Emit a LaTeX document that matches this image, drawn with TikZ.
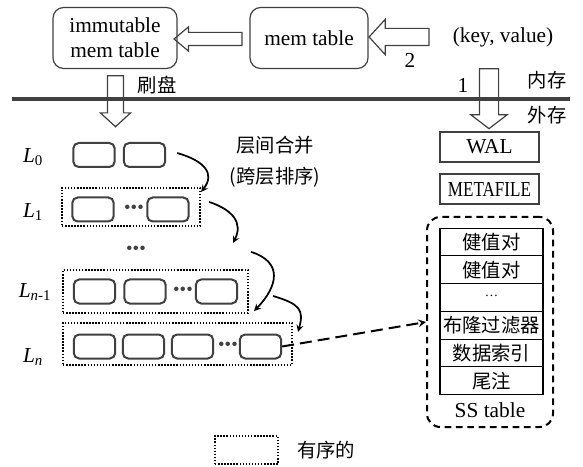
\documentclass[tikz,border=0pt]{standalone}
\usepackage{fontspec}
\setmainfont{Liberation Serif}
\newfontfamily\cjk{Noto Sans CJK SC}
\usetikzlibrary{shapes}
\usetikzlibrary{arrows}
\usetikzlibrary{positioning}
\usetikzlibrary{calc}
\definecolor{edge}{HTML}{404040}
\newcommand{\zh}{\cjk\fontsize{14.5pt}{22.5pt}\selectfont}
\tikzstyle{every node}=[font=\fontsize{16pt}{19pt}\selectfont]
\tikzstyle{memtab}=[rectangle,draw=edge,line width=0.9pt,rounded corners=8pt,
        minimum height=45.75pt,align=center,inner sep=0pt]
\tikzstyle{hollow}=[draw=edge,line width=0.9pt,single arrow,inner xsep=0pt]
\tikzstyle{blk}=[rectangle,draw=edge,line width=1.5pt,rounded corners=4pt,
        minimum width=31pt,minimum height=18pt,inner sep=0pt]
\tikzstyle{lvl}=[rectangle,draw,line width=1.6pt,dash pattern=on 1.1pt off 1.2pt,inner sep=0pt]
\tikzstyle{dots}=[text=edge,inner sep=0pt,font=\fontsize{14pt}{14pt}\selectfont]
\tikzstyle{file}=[rectangle,draw=edge,line width=1pt,minimum width=74.25pt,
        minimum height=22.5pt,inner sep=0pt]
\tikzstyle{cell}=[rectangle,draw,line width=0.8pt,minimum width=77.25pt,
        minimum height=20.8pt,inner sep=0pt,outer sep=0pt,font=\zh]
\tikzstyle{sstab}=[rectangle,draw,line width=1.5pt,rounded corners=10pt,
        dash pattern=on 5pt off 3.5pt,minimum width=94.5pt,minimum height=157.5pt]
\tikzstyle{merge}=[->,>=stealth,line width=1.3pt]
\tikzstyle{link}=[->,>=stealth,line width=1.5pt,dash pattern=on 9pt off 4.5pt]

\begin{document}
\begin{tikzpicture}[x=0.75pt,y=-0.75pt]
\useasboundingbox (0,0) rectangle (583,467);
%memory part
\node[memtab,minimum width=93pt] (imm) at (115,38) {immutable\\mem table};
\node[memtab,minimum width=88.5pt] (mem) at (309,38) {mem table};
\node (kv) at (503,37) {(key, value)};
\draw[line width=3.4pt,draw=edge] (12,99) -- (570,99);
\node[hollow,rotate=180,minimum height=51pt,inner ysep=4.5pt,
        single arrow head extend=4.1pt,single arrow tip angle=80] (a1) at (212,39) {};
\node[hollow,rotate=180,minimum height=45pt,inner ysep=6pt,
        single arrow head extend=6.75pt,single arrow tip angle=95] (a2) at (403,37) {};
\node[hollow,rotate=-90,minimum height=38.25pt,inner ysep=5.6pt,
        single arrow head extend=5.25pt,single arrow tip angle=95] (af) at (115.5,97.5) {};
\node[hollow,rotate=-90,minimum height=45pt,inner ysep=6.75pt,
        single arrow head extend=6.4pt,single arrow tip angle=105] (aw) at (489,95) {};
\node (n2) at (410,60) {2};
\node (n1) at (463,85) {1};
\node[font=\zh] (ram) at (547,80) {内存};
\node[font=\zh] (disk) at (547,115) {外存};
\node[font=\zh] (dump) at (157,85) {刷盘};
%levels
\node (t0) at (33,157) {\textit{L}\textsubscript{0}};
\node (t1) at (33,212) {\textit{L}\textsubscript{1}};
\node (tn1) at (35,292) {\textit{L}\textsubscript{\textit{n}-1}};
\node (tn) at (33,357) {\textit{L}\textsubscript{\textit{n}}};
\node[blk] (l0a) at (94,155) {};
\node[blk] (l0b) at (144.5,155) {};
\node[lvl,minimum width=103.5pt,minimum height=28.5pt] (lv1) at (131,207) {};
\node[blk] (l1a) at (93,209.5) {};
\node[dots] (l1d) at (134,209.5) {\textbullet\textbullet\textbullet};
\node[blk] (l1b) at (168,209.5) {};
\node[dots] (lvm) at (136,250) {\textbullet\textbullet\textbullet};
\node[lvl,minimum width=138.75pt,minimum height=32.25pt] (lvn1) at (155.5,291.5) {};
\node[blk] (m1) at (94.5,291.5) {};
\node[blk] (m2) at (145,291.5) {};
\node[dots] (md) at (183,291.5) {\textbullet\textbullet\textbullet};
\node[blk] (m3) at (216.5,291.5) {};
\node[lvl,minimum width=171.75pt,minimum height=31.5pt] (lvn) at (177.5,344) {};
\node[blk] (n1a) at (94.5,346.5) {};
\node[blk] (n1b) at (143.5,346.5) {};
\node[blk] (n1c) at (192.5,346.5) {};
\node[dots] (nd) at (228,346.5) {\textbullet\textbullet\textbullet};
\node[blk] (n1e) at (260.5,346.5) {};
\node[font=\zh,align=center] (mergetxt) at (275,162) {层间合并\\[1pt](跨层排序)};
%disk files
\node[file] (wal) at (489.5,147) {WAL};
\node[file] (meta) at (489.5,189) {\scalebox{0.8}[1]{METAFILE}};
\node[sstab] (sst) at (490,322) {};
\node[cell] (r1) at (491.5,242) {健值对};
\node[cell,below=0pt of r1] (r2) {健值对};
\node[cell,below=0pt of r2,font=\fontsize{10pt}{10pt}\selectfont] (r3) {\raisebox{3pt}{\ldots}};
\node[cell,below=0pt of r3] (r4) {布隆过滤器};
\node[cell,below=0pt of r4] (r5) {数据索引};
\node[cell,below=0pt of r5] (r6) {尾注};
\node (ssname) at (490,410) {SS table};
%legend
\node[lvl,minimum width=47.25pt,minimum height=21pt] (key) at (246.5,450) {};
\node[font=\zh,right=10pt of key] (keytxt) {有序的};
%merge arrows
\coordinate (c2) at (233,243);
\draw[merge] ([shift={(11,-2)}]l0b.east) .. controls +(28,8) and +(14,-18) .. ([shift={(0,5)}]lv1.north east);
\draw[merge] ([shift={(8,15)}]lv1.north east) .. controls +(24,8) and +(10,-20) .. (c2);
\draw[merge] ([shift={(2,-17)}]lvn1.north east) .. controls +(32,10) and +(24,-25) .. ([shift={(5,-3)}]lvn1.south east);
\draw[merge] ([shift={(24,4.5)}]lvn1.east) .. controls +(27,8) and +(6,-22) .. ([shift={(5,10)}]lvn.north east);
\draw[link] (n1e.east) -- (sst.west);
\end{tikzpicture}
\end{document}
